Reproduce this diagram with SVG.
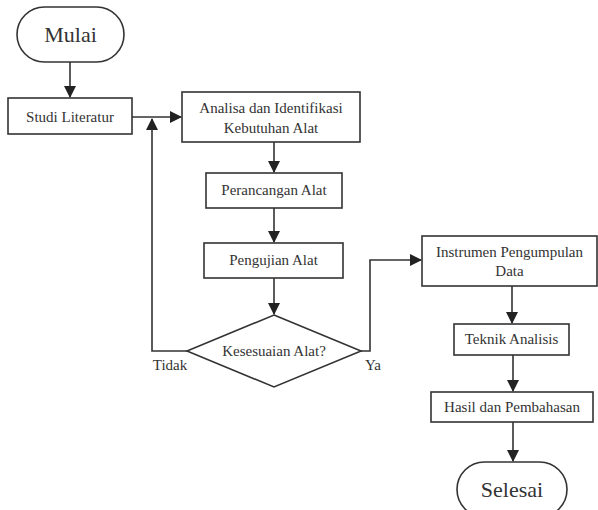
<svg xmlns="http://www.w3.org/2000/svg" width="598" height="510" viewBox="0 0 598 510">
<style>
.s{fill:#fff;stroke:#333;stroke-width:1.6}
.c{fill:none;stroke:#333;stroke-width:1.6}
</style>
<defs>
<marker id="a" markerWidth="12" markerHeight="12" refX="11" refY="6" orient="auto" markerUnits="userSpaceOnUse">
<path d="M0,0 L12,6 L0,12 Z" fill="#222"/>
</marker>
</defs>
<rect width="598" height="510" fill="#fff"/>
<g id="connectors">
<path class="c" d="M70,62 V97" marker-end="url(#a)"/>
<path class="c" d="M132,117 H181" marker-end="url(#a)"/>
<path class="c" d="M274,142 V172" marker-end="url(#a)"/>
<path class="c" d="M274,208 V242" marker-end="url(#a)"/>
<path class="c" d="M274,278 V314" marker-end="url(#a)"/>
<path class="c" d="M187,351 H152 V119" marker-end="url(#a)"/>
<path class="c" d="M361,351 H370 V260 H421" marker-end="url(#a)"/>
<path class="c" d="M512,286 V323" marker-end="url(#a)"/>
<path class="c" d="M513,355 V391" marker-end="url(#a)"/>
<path class="c" d="M513,422 V461" marker-end="url(#a)"/>
</g>
<g id="mulai">
<rect class="s" x="17" y="7" width="107" height="55" rx="27.5"/>
<text x="70.5" y="42" font-family="Liberation Serif, Times New Roman, serif" font-size="22" fill="#333" text-anchor="middle">Mulai</text>
</g>
<g id="studi">
<rect class="s" x="8" y="98" width="124" height="36"/>
<text x="70" y="122" font-family="Liberation Serif, Times New Roman, serif" font-size="15" fill="#333" text-anchor="middle">Studi Literatur</text>
</g>
<g id="analisa">
<rect class="s" x="182" y="92" width="178" height="50"/>
<text x="271" y="113" font-family="Liberation Serif, Times New Roman, serif" font-size="15" fill="#333" text-anchor="middle">Analisa dan Identifikasi</text>
<text x="271" y="133" font-family="Liberation Serif, Times New Roman, serif" font-size="15" fill="#333" text-anchor="middle">Kebutuhan Alat</text>
</g>
<g id="perancangan">
<rect class="s" x="206" y="173" width="136" height="35"/>
<text x="274" y="195" font-family="Liberation Serif, Times New Roman, serif" font-size="15" fill="#333" text-anchor="middle">Perancangan Alat</text>
</g>
<g id="pengujian">
<rect class="s" x="204" y="243" width="139" height="35"/>
<text x="273.5" y="265" font-family="Liberation Serif, Times New Roman, serif" font-size="15" fill="#333" text-anchor="middle">Pengujian Alat</text>
</g>
<g id="kesesuaian">
<polygon class="s" points="274,315 361,351 274,387 187,351"/>
<text x="274" y="356" font-family="Liberation Serif, Times New Roman, serif" font-size="15" fill="#333" text-anchor="middle">Kesesuaian Alat?</text>
</g>
<g id="labels">
<text x="170" y="370" font-family="Liberation Serif, Times New Roman, serif" font-size="15" fill="#333" text-anchor="middle">Tidak</text>
<text x="373" y="370" font-family="Liberation Serif, Times New Roman, serif" font-size="15" fill="#333" text-anchor="middle">Ya</text>
</g>
<g id="instrumen">
<rect class="s" x="422" y="236" width="175" height="50"/>
<text x="509.5" y="257" font-family="Liberation Serif, Times New Roman, serif" font-size="15" fill="#333" text-anchor="middle">Instrumen Pengumpulan</text>
<text x="509.5" y="276" font-family="Liberation Serif, Times New Roman, serif" font-size="15" fill="#333" text-anchor="middle">Data</text>
</g>
<g id="teknik">
<rect class="s" x="454" y="324" width="115" height="31"/>
<text x="511.5" y="344" font-family="Liberation Serif, Times New Roman, serif" font-size="15" fill="#333" text-anchor="middle">Teknik Analisis</text>
</g>
<g id="hasil">
<rect class="s" x="431" y="392" width="162" height="30"/>
<text x="512" y="412" font-family="Liberation Serif, Times New Roman, serif" font-size="15" fill="#333" text-anchor="middle">Hasil dan Pembahasan</text>
</g>
<g id="selesai">
<rect class="s" x="457" y="462" width="110" height="55" rx="27.5"/>
<text x="512" y="497" font-family="Liberation Serif, Times New Roman, serif" font-size="22" fill="#333" text-anchor="middle">Selesai</text>
</g>
</svg>
